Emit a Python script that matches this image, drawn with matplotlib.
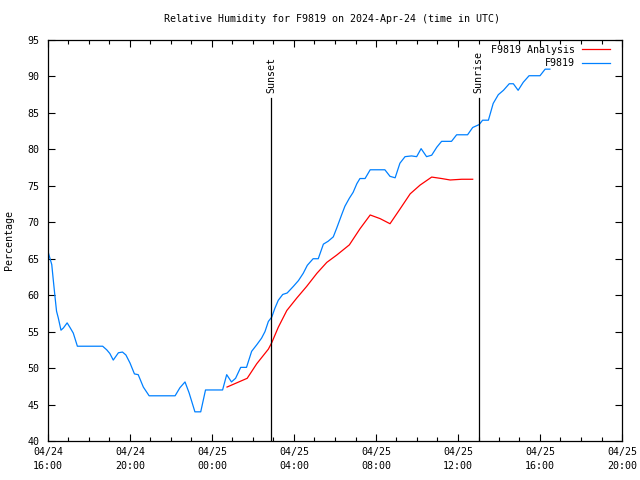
import matplotlib
matplotlib.use("Agg")
import matplotlib.pyplot as plt
import matplotlib.dates as mdates
import pandas as pd

station = "F9819"
title = "Relative Humidity for F9819 on 2024-Apr-24 (time in UTC)"

obs_times = [
    "2024-04-24 16:00", "2024-04-24 16:06", "2024-04-24 16:11", "2024-04-24 16:15",
    "2024-04-24 16:20", "2024-04-24 16:25", "2024-04-24 16:30", "2024-04-24 16:38",
    "2024-04-24 16:45", "2024-04-24 16:56", "2024-04-24 17:04", "2024-04-24 17:14",
    "2024-04-24 17:26", "2024-04-24 18:40", "2024-04-24 18:52", "2024-04-24 19:01",
    "2024-04-24 19:11", "2024-04-24 19:26", "2024-04-24 19:38", "2024-04-24 19:48",
    "2024-04-24 20:00", "2024-04-24 20:13", "2024-04-24 20:24", "2024-04-24 20:39",
    "2024-04-24 20:56", "2024-04-24 22:12", "2024-04-24 22:26", "2024-04-24 22:41",
    "2024-04-24 22:53", "2024-04-24 23:10", "2024-04-24 23:27", "2024-04-24 23:41",
    "2024-04-25 00:31", "2024-04-25 00:43", "2024-04-25 00:57", "2024-04-25 01:09",
    "2024-04-25 01:24", "2024-04-25 01:41", "2024-04-25 01:56", "2024-04-25 02:11",
    "2024-04-25 02:25", "2024-04-25 02:35", "2024-04-25 02:45", "2024-04-25 02:55",
    "2024-04-25 03:04", "2024-04-25 03:14", "2024-04-25 03:27", "2024-04-25 03:40",
    "2024-04-25 03:58", "2024-04-25 04:13", "2024-04-25 04:27", "2024-04-25 04:39",
    "2024-04-25 04:56", "2024-04-25 05:11", "2024-04-25 05:26", "2024-04-25 05:40",
    "2024-04-25 05:55", "2024-04-25 06:05", "2024-04-25 06:20", "2024-04-25 06:29",
    "2024-04-25 06:42", "2024-04-25 06:53", "2024-04-25 07:04", "2024-04-25 07:13",
    "2024-04-25 07:28", "2024-04-25 07:43", "2024-04-25 08:26", "2024-04-25 08:41",
    "2024-04-25 08:56", "2024-04-25 09:10", "2024-04-25 09:25", "2024-04-25 09:44",
    "2024-04-25 09:59", "2024-04-25 10:12", "2024-04-25 10:28", "2024-04-25 10:43",
    "2024-04-25 10:58", "2024-04-25 11:12", "2024-04-25 11:41", "2024-04-25 11:56",
    "2024-04-25 12:28", "2024-04-25 12:43", "2024-04-25 13:02", "2024-04-25 13:12",
    "2024-04-25 13:29", "2024-04-25 13:43", "2024-04-25 13:58", "2024-04-25 14:13",
    "2024-04-25 14:30", "2024-04-25 14:42", "2024-04-25 14:56", "2024-04-25 15:11",
    "2024-04-25 15:28", "2024-04-25 16:00", "2024-04-25 16:15", "2024-04-25 16:29",
]
obs_rh = [
    66.0, 65.0, 64.2, 62.3,
    60.0, 57.8, 56.9, 55.2,
    55.5, 56.2, 55.6, 54.8,
    53.0, 53.0, 52.5, 52.0,
    51.1, 52.1, 52.2, 51.8,
    50.7, 49.2, 49.1, 47.4,
    46.2, 46.2, 47.3, 48.1,
    46.6, 44.0, 44.0, 47.0,
    47.0, 49.1, 48.1, 48.6,
    50.1, 50.1, 52.3, 53.2,
    54.1, 55.0, 56.4, 57.0,
    58.2, 59.3, 60.1, 60.3,
    61.2, 62.0, 63.0, 64.1,
    65.0, 65.0, 67.0, 67.4,
    68.0, 69.2, 71.1, 72.2,
    73.3, 74.1, 75.3, 76.0,
    76.0, 77.2, 77.2, 76.3,
    76.1, 78.1, 79.0, 79.1,
    79.0, 80.1, 79.0, 79.2,
    80.3, 81.1, 81.1, 82.0,
    82.0, 83.0, 83.4, 84.0,
    84.0, 86.3, 87.5, 88.1,
    89.0, 89.0, 88.1, 89.2,
    90.1, 90.1, 91.0, 91.0,
]

ana_times = [
    "2024-04-25 00:44", "2024-04-25 01:43", "2024-04-25 02:11", "2024-04-25 02:45",
    "2024-04-25 02:55", "2024-04-25 03:14", "2024-04-25 03:39", "2024-04-25 04:08",
    "2024-04-25 04:37", "2024-04-25 05:07", "2024-04-25 05:36", "2024-04-25 06:05",
    "2024-04-25 06:42", "2024-04-25 07:13", "2024-04-25 07:43", "2024-04-25 08:12",
    "2024-04-25 08:41", "2024-04-25 09:10", "2024-04-25 09:40", "2024-04-25 10:09",
    "2024-04-25 10:43", "2024-04-25 11:12", "2024-04-25 11:37", "2024-04-25 12:11",
    "2024-04-25 12:43",
]
ana_rh = [
    47.4, 48.6, 50.6, 52.6,
    53.5, 55.6, 57.9, 59.6,
    61.2, 63.0, 64.5, 65.5,
    66.9, 69.1, 71.0, 70.5,
    69.8, 71.8, 73.9, 75.1,
    76.2, 76.0, 75.8, 75.9,
    75.9,
]

sunset_time = "2024-04-25 02:53"
sunrise_time = "2024-04-25 13:01"
x_start = "2024-04-24 16:00"
x_end = "2024-04-25 20:00"
y_min, y_max = 40, 95

font = {"family": "DejaVu Sans Mono", "size": 7.2}

fig = plt.figure(figsize=(6.4, 4.8), dpi=100)
ax = fig.add_axes([48 / 640, 1 - 441 / 480, (622 - 48) / 640, (441 - 40) / 480])

t_obs = pd.to_datetime(obs_times)
t_ana = pd.to_datetime(ana_times)

ax.plot(t_ana, ana_rh, color="#ff0000", lw=0.9, label=f"{station} Analysis")
ax.plot(t_obs, obs_rh, color="#0080ff", lw=0.9, label=station)

for tstr, lbl in [(sunset_time, "Sunset"), (sunrise_time, "Sunrise")]:
    t = pd.Timestamp(tstr)
    ax.plot([t, t], [0, 0.855], color="black", lw=0.9, transform=ax.get_xaxis_transform())
    ax.text(t, 0.868, lbl, rotation=90, ha="center", va="bottom",
            transform=ax.get_xaxis_transform(), fontdict=font)

ax.set_xlim(pd.Timestamp(x_start), pd.Timestamp(x_end))
ax.set_ylim(y_min, y_max)
ax.set_yticks(range(y_min, y_max + 1, 5))
ax.xaxis.set_major_locator(mdates.HourLocator(byhour=range(0, 24, 4)))
ax.xaxis.set_minor_locator(mdates.HourLocator())
ax.xaxis.set_major_formatter(mdates.DateFormatter("%m/%d\n%H:%M"))

ax.tick_params(which="both", direction="in", top=True, right=True, width=0.8, colors="black")
ax.tick_params(which="major", length=5, pad=4)
ax.tick_params(axis="y", which="major", pad=6)
ax.tick_params(which="minor", length=3)
for lab in ax.get_xticklabels() + ax.get_yticklabels():
    lab.set_fontfamily(font["family"])
    lab.set_fontsize(font["size"])
for lab in ax.get_xticklabels():
    lab.set_linespacing(1.6)
for s in ax.spines.values():
    s.set_linewidth(0.9)

ax.set_ylabel("Percentage", fontdict=font, labelpad=10)
fig.text(332 / 640, 1 - 19 / 480, title, ha="center", va="center", fontdict=font)

leg = ax.legend(loc="upper right", frameon=False, prop={"family": font["family"], "size": font["size"]},
                markerfirst=False, handlelength=2.8, handletextpad=0.7, labelspacing=0.35,
                borderaxespad=0.0, borderpad=0.5, alignment="right",
                bbox_to_anchor=(1 - 7 / 574, 1.0))
for txt in leg.get_texts():
    txt.set_ha("right")

fig.savefig("out.png", dpi=100)
